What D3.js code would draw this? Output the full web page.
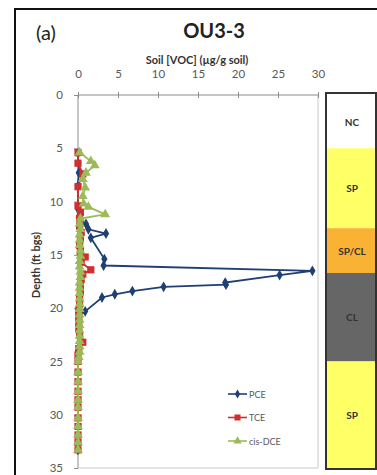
<!DOCTYPE html>
<html lang="en">
<head>
<meta charset="UTF-8">
<title>OU3-3</title>
<script src="https://cdn.jsdelivr.net/npm/d3@7"></script>
<style>
    body { margin: 0; background: #fff; }
    svg { display: block; font-family: Lato, "Open Sans", sans-serif; }
    .axis path, .axis line { stroke: #8c8c8c; }
    .axis text { fill: #595959; font-size: 11.5px; font-family: Lato, sans-serif; }
    .curve { fill: none; stroke-width: 1.8px; }
</style>
</head>
<body>
<svg width="377" height="475"></svg>
<script>
    // [depth ft, concentration ug/g]
    var pce = [[5.5,0],[7.3,0.1],[8.5,0],[10.7,0],[11.5,0.1],[12.1,1.0],[12.6,1.3],[13.0,3.5],
               [13.4,1.6],[15.4,3.3],[16.0,3.2],[16.5,29.3],[16.9,25.2],[17.6,18.4],[17.8,18.5],
               [18.0,10.7],[18.4,6.8],[18.7,4.6],[19.0,3.0],[20.3,0.9],[20.7,0.2],[22.0,0.1],
               [24.0,0],[26.0,0],[28.6,0],[31.1,0],[33.3,0]];
    var tce = [[5.4,0],[6.4,0],[7.4,0.6],[8.6,0],[10.4,0],[11.0,0.3],[11.6,0.2],[12.3,0.2],
               [12.9,0.4],[13.5,0.3],[14.1,0.2],[14.7,0.3],[15.2,0.9],[15.7,0.4],[16.4,1.6],
               [16.8,0.6],[17.3,0.4],[17.9,0.3],[18.5,0.3],[19.0,0.2],[19.6,0.2],[20.2,0.1],
               [20.7,0.1],[21.3,0.1],[21.9,0.1],[22.5,0.2],[23.2,0.6],[23.8,0.1],[24.4,0],
               [25.0,0],[26.0,0],[26.9,0],[27.8,0],[28.6,0],[29.3,0],[30.3,0],[31.1,0],
               [31.9,0],[32.6,0],[33.3,0]];
    var dce = [[5.4,0.2],[6.2,1.6],[6.6,2.1],[7.3,1.0],[7.9,0.6],[8.7,0.9],[9.5,0.6],[10.2,0.7],
               [10.5,1.3],[11.2,3.4],[11.6,0.3],[12.1,0.2],[12.6,0.3],[13.1,0.2],[13.6,0.2],
               [14.1,0.2],[14.6,0.3],[15.1,0.3],[15.6,0.2],[16.1,0.2],[16.6,0.3],[17.1,0.3],
               [17.6,0.2],[18.1,0.2],[18.6,0.2],[19.1,0.2],[19.6,0.2],[20.1,0.2],[20.6,0.2],
               [21.1,0.2],[21.6,0.2],[22.1,0.2],[22.6,0.2],[23.1,0.2],[23.6,0.2],[24.1,0.2],
               [24.6,0.1],[25.0,0],[26.0,0],[26.9,0],[27.8,0],[28.6,0],[29.3,0],[30.3,0],
               [31.1,0],[31.9,0],[32.6,0],[33.3,0]];
    var seriesNames = ['PCE', 'TCE', 'cis-DCE'];
    var xTicks = [0, 5, 10, 15, 20, 25, 30];
    var yTicks = [0, 5, 10, 15, 20, 25, 30, 35];
    // soil layers: [top ft, bottom ft, label]
    var layers = [[0, 5, 'NC'], [5, 12.5, 'SP'], [12.5, 16.7, 'SP/CL'], [16.7, 25, 'CL'], [25, 35, 'SP']];
    var layerColors = {'NC': '#ffffff', 'SP': '#ffff66', 'SP/CL': '#f9b233', 'CL': '#666666'};

    var svg = d3.select('svg'),
        margin = {top: 95, left: 78},
        chartWidth = 240,
        chartHeight = 373,
        xScale = d3.scaleLinear().domain([0, 30]).range([0, chartWidth]),
        yScale = d3.scaleLinear().domain([0, 35]).range([0, chartHeight]),
        colors = {PCE: '#1f3f75', TCE: '#d02f2f', 'cis-DCE': '#9bbb59'};

    // outer frame
    svg.append('rect')
        .attr('x', 15).attr('y', 9).attr('width', 420).attr('height', 520)
        .attr('fill', 'none').attr('stroke', '#111').attr('stroke-width', 2);

    svg.append('text').attr('x', 36).attr('y', 40)
        .style('font-size', '20px').style('fill', '#222').text('(a)');
    svg.append('text').attr('x', 214).attr('y', 38).attr('text-anchor', 'middle')
        .style('font-size', '20px').style('font-weight', 'bold').style('fill', '#222').text('OU3-3');
    svg.append('text').attr('x', 197).attr('y', 64).attr('text-anchor', 'middle')
        .style('font-size', '11px').style('font-weight', 'bold').style('fill', '#333')
        .text('Soil [VOC] (\u00b5g/g soil)');
    svg.append('text').attr('transform', 'translate(40,265) rotate(-90)').attr('text-anchor', 'middle')
        .style('font-size', '11px').style('font-weight', 'bold').style('fill', '#333')
        .text('Depth (ft bgs)');

    var chartG = svg.append('g')
        .attr('transform', 'translate(' + [margin.left, margin.top] + ')');

    // plot area border (right and bottom)
    chartG.append('path')
        .attr('d', 'M' + xScale(30) + ',0V' + yScale(35) + 'H0')
        .attr('fill', 'none').attr('stroke', '#c8c8c8');

    var xAxis = chartG.append('g').classed('axis', true)
        .call(d3.axisTop(xScale).tickValues(xTicks).tickSize(3).tickPadding(14));
    xAxis.selectAll('.tick line').attr('y2', 3).attr('y1', -3);
    xAxis.select('.domain').attr('d', 'M0,0H' + chartWidth);

    var yAxis = chartG.append('g').classed('axis', true)
        .call(d3.axisLeft(yScale).tickValues(yTicks).tickSize(4).tickPadding(11));
    yAxis.select('.domain').attr('d', 'M0,0V' + chartHeight);

    var line = d3.line()
        .x(function(d) { return xScale(d[1]); })
        .y(function(d) { return yScale(d[0]); });

    var symbols = {PCE: d3.symbolDiamond, TCE: d3.symbolSquare, 'cis-DCE': d3.symbolTriangle};
    var symSize = {PCE: 34, TCE: 52, 'cis-DCE': 42};
    var data = {PCE: pce, TCE: tce, 'cis-DCE': dce};

    // PCE first so TCE/DCE sit on top where they overlap at zero
    seriesNames.forEach(function(name) {
        var g = chartG.append('g');
        g.append('path').classed('curve', true)
            .datum(data[name])
            .attr('stroke', colors[name])
            .attr('d', line);
        g.selectAll('path.pt').data(data[name]).enter().append('path')
            .classed('pt', true)
            .attr('transform', function(d) { return 'translate(' + [xScale(d[1]), yScale(d[0])] + ')'; })
            .attr('d', d3.symbol().type(symbols[name]).size(symSize[name]))
            .attr('fill', colors[name]);
    });

    // legend
    var legend = svg.append('g').attr('transform', 'translate(228,394)');
    seriesNames.forEach(function(name, i) {
        var lg = legend.append('g').attr('transform', 'translate(0,' + i * 23.5 + ')');
        lg.append('line').attr('x1', 0).attr('x2', 19).attr('y1', 0).attr('y2', 0)
            .attr('stroke', colors[name]).attr('stroke-width', 1.6);
        lg.append('path').attr('transform', 'translate(9.5,0)')
            .attr('d', d3.symbol().type(symbols[name]).size(symSize[name] * 0.7))
            .attr('fill', colors[name]);
        lg.append('text').attr('x', 21).attr('y', 3.5)
            .style('font-size', '9px').style('fill', '#595959').text(name);
    });

    // soil column
    var colG = svg.append('g').attr('transform', 'translate(326,' + margin.top + ')');
    colG.selectAll('rect.layer').data(layers).enter().append('rect')
        .classed('layer', true)
        .attr('x', 0).attr('width', 50)
        .attr('y', function(d) { return yScale(d[0]); })
        .attr('height', function(d) { return yScale(d[1]) - yScale(d[0]); })
        .attr('fill', function(d) { return layerColors[d[2]]; });
    colG.selectAll('text').data(layers).enter().append('text')
        .attr('x', 26)
        .attr('y', function(d) { return (yScale(d[0]) + yScale(d[1])) / 2 + 4; })
        .attr('text-anchor', 'middle')
        .style('font-size', '10px').style('font-weight', 'bold').style('fill', '#333')
        .text(function(d) { return d[2]; });
    colG.append('rect')
        .attr('x', 0).attr('y', -2).attr('width', 50).attr('height', chartHeight + 3)
        .attr('fill', 'none').attr('stroke', '#333').attr('stroke-width', 2);
</script>
</body>
</html>
